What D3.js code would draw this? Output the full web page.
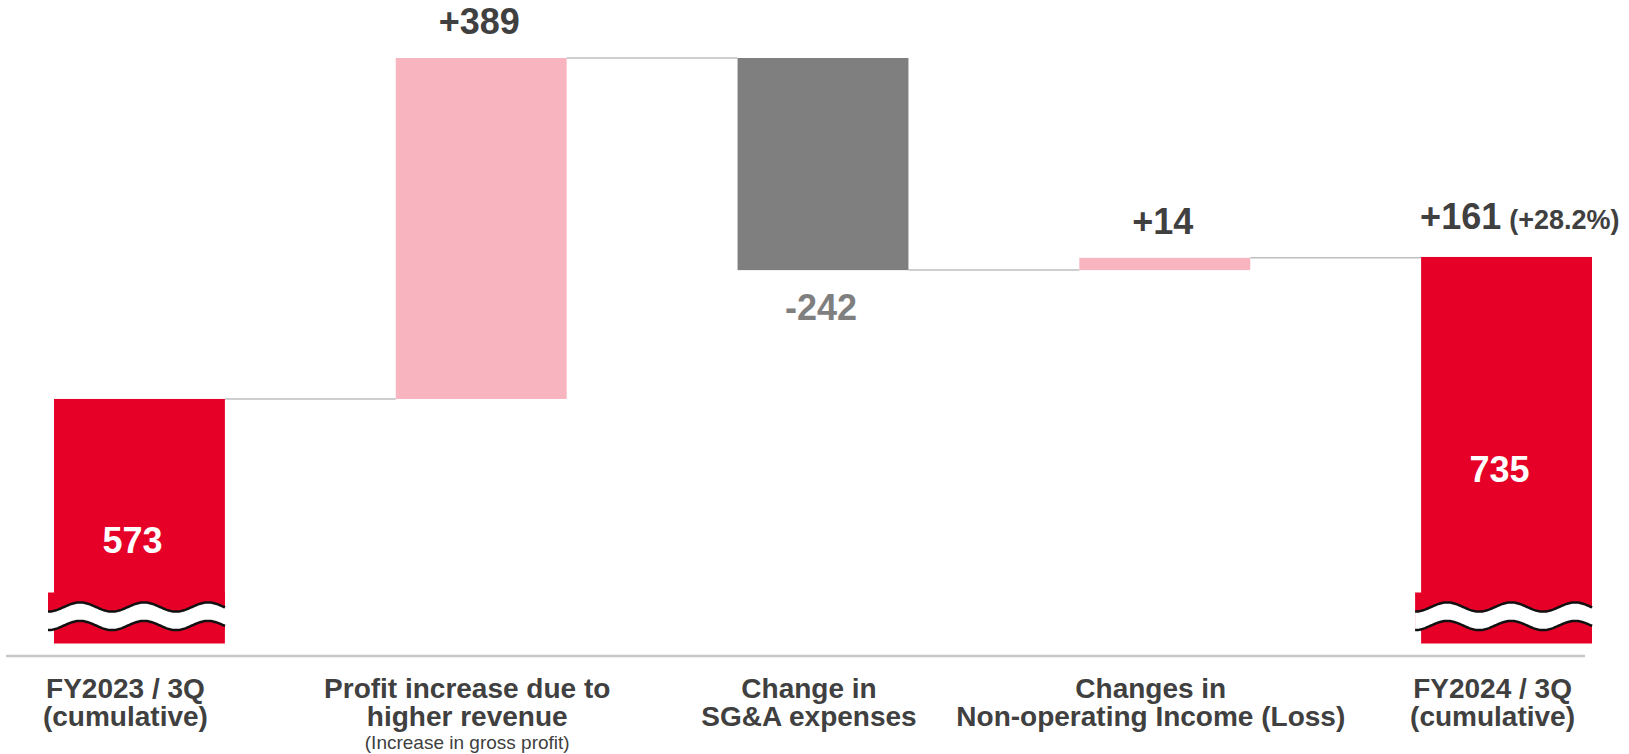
<!DOCTYPE html>
<html>
<head>
<meta charset="utf-8">
<script src="https://cdn.jsdelivr.net/npm/d3@7"></script>
<style>
  html, body { margin: 0; padding: 0; background: #ffffff; }
  svg { display: block; font-family: "Liberation Sans", Arial, sans-serif; }
</style>
</head>
<body>
<script>
// Ordinary income bridge, FY2023/3Q -> FY2024/3Q (cumulative)
const categories = [
  "FY2023 / 3Q (cumulative)",
  "Profit increase due to higher revenue",
  "Change in SG&A expenses",
  "Changes in Non-operating Income (Loss)",
  "FY2024 / 3Q (cumulative)"
];
const categoryLines = [
  ["FY2023 / 3Q", "(cumulative)"],
  ["Profit increase due to", "higher revenue"],
  ["Change in", "SG&A expenses"],
  ["Changes in", "Non-operating Income (Loss)"],
  ["FY2024 / 3Q", "(cumulative)"]
];
const categoryNotes = ["", "(Increase in gross profit)", "", "", ""];
const barKinds = ["total", "delta", "delta", "delta", "total"];
const values = [573, 389, -242, 14, 735];
const totalChangeText = "+161";
const totalChangePctText = "(+28.2%)";

const W = 1629, H = 754;
const COLORS = { total: "#e60027", up: "#f8b4bf", down: "#7f7f7f" };
const TEXT_DARK = "#404040";

// running totals for the waterfall
const axisFloor = 294;            // value at the (broken) base of the bars
let running = 0;
const steps = categories.map((c, i) => {
  const v = values[i];
  let start, end, fill;
  if (barKinds[i] === "total") {
    start = axisFloor; end = v; running = v; fill = COLORS.total;
  } else {
    start = running; end = running + v; running = end;
    fill = v >= 0 ? COLORS.up : COLORS.down;
  }
  return { cat: c, kind: barKinds[i], value: v, start, end, fill };
});

const svg = d3.select("body").append("svg")
  .attr("width", W).attr("height", H);

const plotBottom = 643.5, plotTop = 58;
const x = d3.scaleBand().domain(categories)
  .range([54, 1592]).paddingInner(0.5).paddingOuter(0);
const y = d3.scaleLinear()
  .domain([axisFloor, d3.max(steps, d => Math.max(d.start, d.end))])
  .range([plotBottom, plotTop]);
const bw = x.bandwidth();

// connectors between consecutive bars
const connectors = steps.slice(0, -1).map((d, i) => ({
  x1: x(d.cat) + bw, x2: x(steps[i + 1].cat), level: d.end
}));
svg.append("g").selectAll("line").data(connectors).join("line")
  .attr("x1", d => d.x1).attr("x2", d => d.x2)
  .attr("y1", d => y(d.level)).attr("y2", d => y(d.level))
  .attr("stroke", "#bfbfbf").attr("stroke-width", 1.5);

// bars
svg.append("g").selectAll("rect").data(steps).join("rect")
  .attr("x", d => x(d.cat))
  .attr("width", bw)
  .attr("y", d => y(Math.max(d.start, d.end)))
  .attr("height", d => Math.abs(y(d.start) - y(d.end)))
  .attr("fill", d => d.fill);

// wavy axis-break marks on the total bars
const waveLen = 64, waveAmp = 4.6;
const ts = d3.range(-6, bw + 0.5, 1);
const topWave = t => -36.5 + waveAmp * Math.cos(2 * Math.PI * (t + 6) / waveLen);
const botWave = t => topWave(t) + 18.5;
const breaks = svg.append("g").selectAll("g")
  .data(steps.filter(d => d.kind === "total")).join("g")
  .attr("transform", d => `translate(${x(d.cat)},${plotBottom})`);
breaks.append("rect")
  .attr("x", -6).attr("y", -51).attr("width", bw + 6).attr("height", 38)
  .attr("fill", COLORS.total);
breaks.append("path")
  .attr("d", d3.area().x(t => t).y0(topWave).y1(botWave)(ts))
  .attr("fill", "#ffffff");
[topWave, botWave].forEach(fn => {
  breaks.append("path")
    .attr("d", d3.line().x(t => t).y(fn)(ts))
    .attr("fill", "none").attr("stroke", "#111111").attr("stroke-width", 2.5);
});

// baseline
svg.append("line")
  .attr("x1", 6).attr("x2", 1585).attr("y1", 656).attr("y2", 656)
  .attr("stroke", "#c8c8c8").attr("stroke-width", 2.5);

// value labels
const labels = svg.append("g").attr("font-weight", "bold");
steps.forEach(d => {
  const cx = x(d.cat) + bw / 2;
  if (d.kind === "delta") {
    const txt = (d.value >= 0 ? "+" : "-") + Math.abs(d.value);
    if (d.value >= 0) {
      labels.append("text").attr("x", cx - 2).attr("y", y(d.end) - 24)
        .attr("text-anchor", "middle").attr("font-size", 36)
        .attr("fill", TEXT_DARK).text(txt);
    } else {
      labels.append("text").attr("x", cx - 2).attr("y", y(d.end) + 50)
        .attr("text-anchor", "middle").attr("font-size", 36)
        .attr("fill", "#7f7f7f").text(txt);
    }
  } else {
    const mid = (y(d.start) + y(d.end)) / 2;
    labels.append("text").attr("x", cx - 7).attr("y", mid + 32)
      .attr("text-anchor", "middle").attr("font-size", 36)
      .attr("fill", "#ffffff").text(d.value);
  }
});

// change label above the closing total
const last = steps[steps.length - 1];
const chg = labels.append("text")
  .attr("x", x(last.cat) - 1).attr("y", y(last.end) - 28)
  .attr("fill", TEXT_DARK);
chg.append("tspan").attr("font-size", 36).text(totalChangeText);
chg.append("tspan").attr("font-size", 27).attr("dx", 8).text(totalChangePctText);

// category labels
const cats = svg.append("g").attr("fill", TEXT_DARK);
categories.forEach((c, i) => {
  const cx = x(c) + bw / 2 - 14;
  const t = cats.append("text").attr("text-anchor", "middle")
    .attr("font-size", 28).attr("font-weight", "bold");
  categoryLines[i].forEach((line, j) => {
    t.append("tspan").attr("x", cx).attr("y", 698 + j * 28).text(line);
  });
  if (categoryNotes[i]) {
    cats.append("text").attr("x", cx).attr("y", 749)
      .attr("text-anchor", "middle").attr("font-size", 19)
      .text(categoryNotes[i]);
  }
});
</script>
</body>
</html>
